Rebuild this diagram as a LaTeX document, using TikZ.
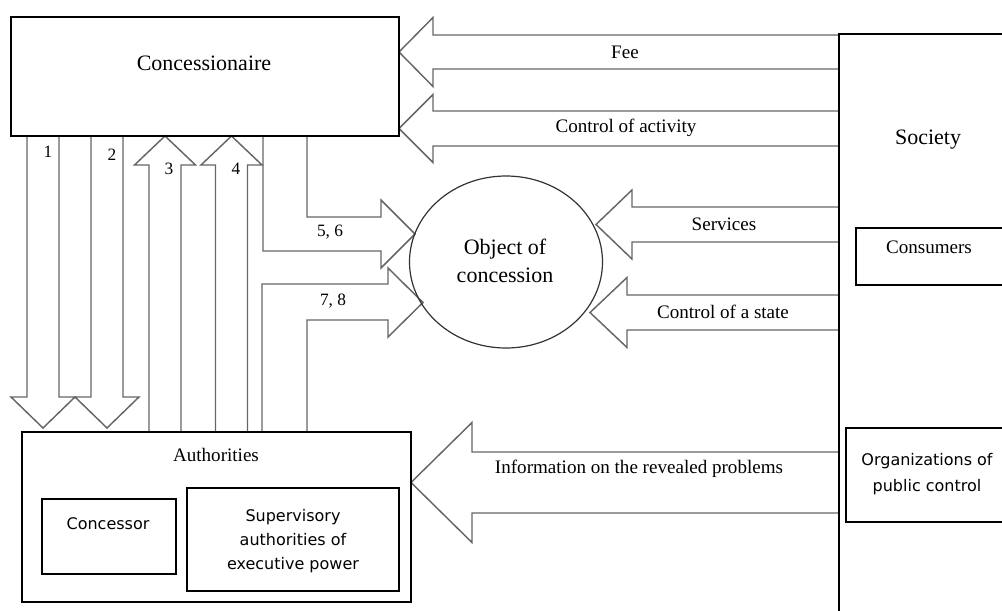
\documentclass[tikz,border=0pt]{standalone}
\usepackage{fontspec}
\setmainfont{Liberation Serif}
\newfontfamily\sansfont{DejaVu Sans}
\usetikzlibrary{shapes.geometric}

\begin{document}
\begin{tikzpicture}[
  x=0.75pt, y=-0.75pt,
  box/.style={draw=black, line width=1.2pt},
  barr/.style={draw=black!60, line width=1.1pt, line join=miter},
  big/.style={font=\fontsize{16.5}{21}\selectfont, inner sep=0pt, align=center},
  lbl/.style={font=\fontsize{14.3}{17}\selectfont, inner sep=0pt},
  num/.style={font=\fontsize{13}{15}\selectfont, inner sep=0pt},
  slbl/.style={font=\sansfont\fontsize{12}{18}\selectfont, inner sep=0pt, align=center}
]
  \def\socx{839}
  \useasboundingbox (0,0) rectangle (1002,610);
  \clip (0,0) rectangle (1002,610);

  % ── Left block arrows from Society ──
  \foreach \tx/\ty/\bx/\hw/\sw in {399/52/433/34.5/17, 399/128.5/433/34/17.5,
      596/224.5/632/34.5/17.5, 590/312.5/627/35/17.5, 411/482.5/472/60/30.5} {
    \draw[barr] (\socx,\ty-\sw) -- (\bx,\ty-\sw) -- (\bx,\ty-\hw) -- (\tx,\ty)
      -- (\bx,\ty+\hw) -- (\bx,\ty+\sw) -- (\socx,\ty+\sw);
  }
  \node[lbl] (fee) at (625,52) {Fee};
  \node[lbl] (actv) at (626,128) {Control of activity};
  \node[lbl] (serv) at (724,224) {Services};
  \node[lbl] (stat) at (723,312) {Control of a state};
  \node[lbl] (info) at (639,469) {Information on the revealed problems};

  % ── Arrows 1, 2 (down) and 3, 4 (up) ──
  \foreach \cx in {43,107} {
    \draw[barr] (\cx-16,136) -- (\cx-16,397) -- (\cx-32,397) -- (\cx,428)
      -- (\cx+32,397) -- (\cx+16,397) -- (\cx+16,136);
  }
  \foreach \cx in {165,231.5} {
    \draw[barr] (\cx-16,432) -- (\cx-16,165) -- (\cx-30.5,165) -- (\cx,136)
      -- (\cx+30.5,165) -- (\cx+16,165) -- (\cx+16,432);
  }
  \node[num] (n1) at (48,152) {1};
  \node[num] (n2) at (112,155) {2};
  \node[num] (n3) at (169,169) {3};
  \node[num] (n4) at (236,169) {4};

  % ── Arrows 5, 6 and 7, 8 ──
  \draw[barr] (307,136) -- (307,217) -- (381,217) -- (381,200) -- (415,234)
    -- (381,268) -- (381,251) -- (263,251) -- (263,136);
  \draw[barr] (262,432) -- (262,284) -- (388,284) -- (388,268) -- (423,302.5)
    -- (388,337) -- (388,320) -- (307,320) -- (307,432);
  \node[num] (n56) at (330,232) {5, 6};
  \node[num] (n78) at (333,301) {7, 8};

  % ── Concessionaire ──
  \draw[box] (11,17) rectangle (399,136);
  \node[big] (conc) at (204,63) {Concessionaire};

  % ── Object of concession ──
  \node[draw=black!80, line width=0.9pt, ellipse, minimum width=144.75pt,
    minimum height=129pt, inner sep=0pt] (obj) at (506,262) {};
  \node[big] (objt) at (505,261) {Object of\\concession};

  % ── Society ──
  \draw[box] (1010,34) -- (\socx,34) -- (\socx,620);
  \node[big] (soc) at (928,140) {Society};
  \draw[box] (1010,228) -- (856,228) -- (856,285) -- (1010,285);
  \node[lbl] (cons) at (929,247) {Consumers};
  \draw[box] (1010,428) -- (846,428) -- (846,522) -- (1010,522);
  \node[slbl, font=\sansfont\fontsize{12}{19.5}\selectfont] (orgs) at (927,474)
    {Organizations of\\public control};

  % ── Authorities ──
  \draw[box] (22,432) rectangle (411,602);
  \node[lbl] (auth) at (216,455) {Authorities};
  \draw[box] (42,499) rectangle (176,574);
  \node[slbl] (cnsr) at (108,524) {Concessor};
  \draw[box] (187,488) rectangle (399,591);
  \node[slbl] (supv) at (293,541) {Supervisory\\authorities of\\executive power};

\end{tikzpicture}
\end{document}
